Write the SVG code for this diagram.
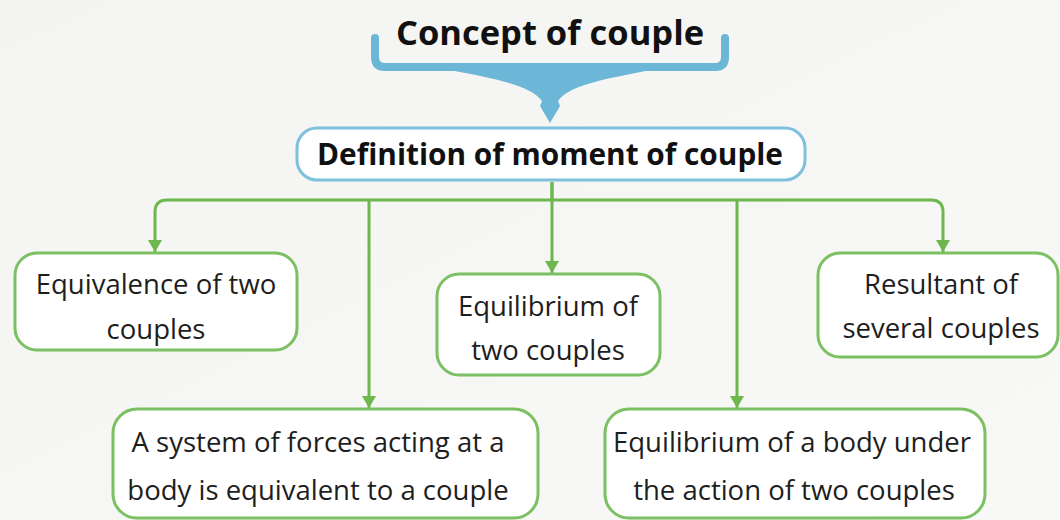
<svg xmlns="http://www.w3.org/2000/svg" width="1060" height="520" viewBox="0 0 1060 520">
<defs>
<linearGradient id="bg" x1="0" y1="0" x2="1" y2="1">
<stop offset="0" stop-color="#f4f4f2"/>
<stop offset="1" stop-color="#f8f8f6"/>
</linearGradient>
<marker id="ah" markerUnits="userSpaceOnUse" markerWidth="16" markerHeight="14" refX="12" refY="7" orient="auto">
<path d="M0,0 L12,7 L0,14 Z" fill="#6cb84e"/>
</marker>
<style>
.box{fill:#ffffff;stroke:#7cc064;stroke-width:3}
.def{fill:#ffffff;stroke:#7fc0dc;stroke-width:3}
.lbl{font-family:"Open Sans","Noto Sans",sans-serif;font-size:27.5px;fill:#1e1e1e;text-anchor:middle}
.bold{font-family:"Open Sans","Noto Sans",sans-serif;font-weight:bold;fill:#111;text-anchor:middle}
.con{fill:none;stroke:#6cb84e;stroke-width:3}
</style>
</defs>
<rect width="1060" height="520" fill="url(#bg)"/>

<g id="title">
<text class="bold" x="550" y="45" font-size="34.5">Concept of couple</text>
<path d="M375,38 L375,57 Q375,67 385,67 L715,67 Q725,67 725,57 L725,38" fill="none" stroke="#6cb6d8" stroke-width="8" stroke-linecap="round"/>
<path d="M440,68 C490,78 530,84 542,101 L540,106 L550,123 L560,106 L558,101 C570,84 610,78 662,68 Z" fill="#6cb6d8"/>
</g>

<g id="definition">
<rect class="def" x="297" y="128" width="508" height="52" rx="20"/>
<text class="bold" x="550" y="165" font-size="29.8">Definition of moment of couple</text>
</g>

<g id="connectors">
<path class="con" d="M552,182 L552,200 L167,200 Q155,200 155,212 L155,252" marker-end="url(#ah)"/>
<path class="con" d="M552,200 L931,200 Q943,200 943,212 L943,252" marker-end="url(#ah)"/>
<path class="con" d="M552,182 L552,273" marker-end="url(#ah)"/>
<path class="con" d="M369,200 L369,408" marker-end="url(#ah)"/>
<path class="con" d="M737,200 L737,408" marker-end="url(#ah)"/>
</g>

<g id="equivalence">
<rect class="box" x="15" y="253" width="282" height="97" rx="22"/>
<text class="lbl" x="156" y="294">Equivalence of two</text>
<text class="lbl" x="156" y="339">couples</text>
</g>

<g id="equilibrium-two">
<rect class="box" x="437" y="274" width="223" height="101" rx="22"/>
<text class="lbl" x="548" y="316">Equilibrium of</text>
<text class="lbl" x="548" y="360">two couples</text>
</g>

<g id="resultant">
<rect class="box" x="818" y="253" width="240" height="104" rx="22"/>
<text class="lbl" x="941" y="294">Resultant of</text>
<text class="lbl" x="941" y="338">several couples</text>
</g>

<g id="system">
<rect class="box" x="113" y="409" width="425" height="109" rx="24"/>
<text class="lbl" x="318" y="452">A system of forces acting at a</text>
<text class="lbl" x="318" y="500">body is equivalent to a couple</text>
</g>

<g id="equilibrium-body">
<rect class="box" x="605" y="409" width="380" height="109" rx="24"/>
<text class="lbl" x="792" y="452">Equilibrium of a body under</text>
<text class="lbl" x="794" y="500">the action of two couples</text>
</g>
</svg>
